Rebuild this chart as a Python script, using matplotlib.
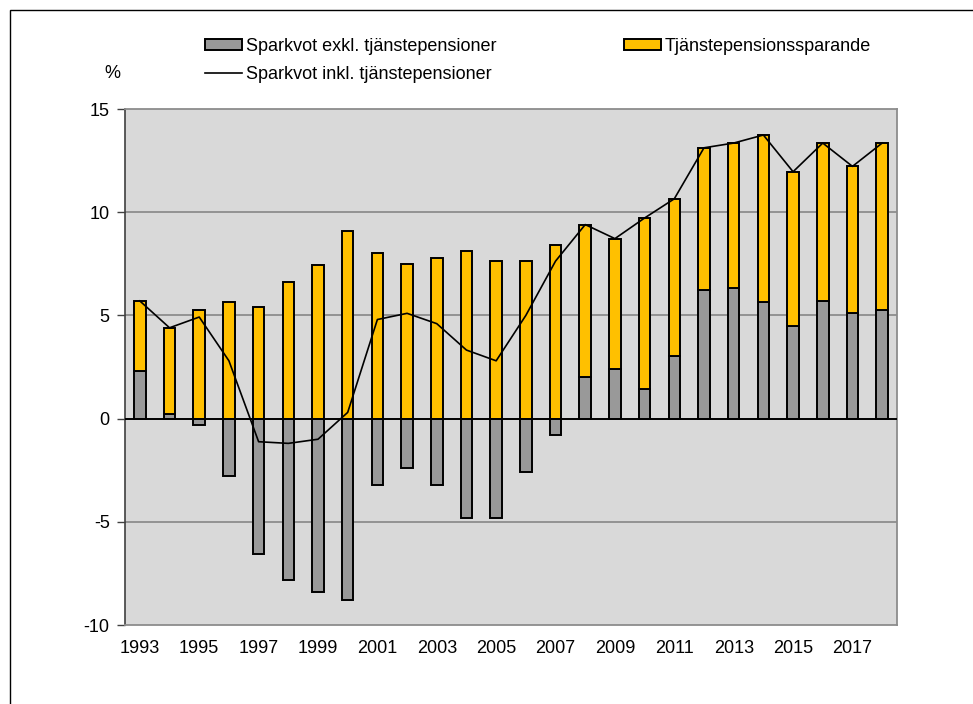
import matplotlib
matplotlib.use("Agg")
import matplotlib.pyplot as plt
from matplotlib.patches import Rectangle
import numpy as np

plt.rcParams['font.family'] = ['Liberation Sans', 'DejaVu Sans']
plt.rcParams['axes.unicode_minus'] = False

years = list(range(1993, 2019))
# Sparkvot exkl. tjänstepensioner (grå staplar)
exkl = [2.3, 0.23, -0.3, -2.8, -6.55, -7.8, -8.4, -8.8, -3.24, -2.39, -3.24, -4.8, -4.8,
        -2.6, -0.78, 2.02, 2.41, 1.41, 3.03, 6.23, 6.31, 5.63, 4.48, 5.71, 5.1, 5.24]
# Tjänstepensionssparande (gula staplar)
tjanste = [3.41, 4.17, 5.24, 5.65, 5.42, 6.62, 7.43, 9.11, 8.03, 7.51, 7.8, 8.11, 7.62,
           7.62, 8.41, 7.38, 6.31, 8.31, 7.62, 6.89, 7.04, 8.11, 7.48, 7.64, 7.12, 8.11]
# Sparkvot inkl. tjänstepensioner (linje)
inkl = [5.7, 4.4, 4.92, 2.8, -1.12, -1.2, -1.0, 0.3, 4.8, 5.1, 4.6, 3.32, 2.8,
        5.0, 7.63, 9.4, 8.72, 9.72, 10.65, 13.12, 13.35, 13.74, 11.96, 13.35, 12.22, 13.35]

labels = ['Sparkvot exkl. tjänstepensioner', 'Tjänstepensionssparande',
          'Sparkvot inkl. tjänstepensioner']

fig = plt.figure(figsize=(9.73, 7.04), dpi=100)
ax = fig.add_axes([125 / 973, 1 - 625 / 704, (897 - 125) / 973, (625 - 109) / 704])
ax.set_facecolor('#d9d9d9')

x = np.arange(len(years))
exkl_arr = np.array(exkl)
bottom = np.where(exkl_arr > 0, exkl_arr, 0)
w = 0.39

for yv in [-5, 5, 10]:
    ax.axhline(yv, color='#7f7f7f', lw=1.1, zorder=1)

b1 = ax.bar(x, exkl, width=w, color='#999999', edgecolor='black', lw=1.4, zorder=3,
            label=labels[0])
b2 = ax.bar(x, tjanste, width=w, bottom=bottom, color='#ffc000', edgecolor='black', lw=1.4,
            zorder=3, label=labels[1])
ax.axhline(0, color='black', lw=1.4, zorder=4)
l1, = ax.plot(x, inkl, color='black', lw=1.2, zorder=5, label=labels[2])

ax.set_xlim(-0.5, len(years) - 0.5)
ax.set_ylim(-10, 15)
ax.set_yticks(np.arange(-10, 16, 5))
ax.set_xticks(x[::2])
ax.set_xticklabels([str(y) for y in years[::2]])
ax.tick_params(axis='x', length=0, pad=11, labelsize=13)
ax.tick_params(axis='y', length=6, width=1, color='#404040', pad=5, labelsize=13)

for s in ['top', 'right', 'bottom']:
    ax.spines[s].set_color('#8c8c8c')
    ax.spines[s].set_linewidth(1.3)
ax.spines['left'].set_color('#404040')
ax.spines['left'].set_linewidth(1.2)

fig.legend([b1, l1, b2], [labels[0], labels[2], labels[1]], ncol=2, frameon=False,
           loc='upper left', bbox_to_anchor=(205 / 973, 1 - 38 / 704), fontsize=13,
           handlelength=2.05, handleheight=0.55, handletextpad=0.2, columnspacing=7.1,
           labelspacing=0.6, borderpad=0, borderaxespad=0)

fig.text(112 / 973, 1 - 73 / 704, '%', fontsize=13, ha='center', va='center')

fig.patches.append(Rectangle((10 / 973, -0.1), 1.2, 1.1 - 10 / 704, transform=fig.transFigure,
                             fill=False, edgecolor='black', lw=1.0, figure=fig))

fig.savefig('out.png', dpi=100)
